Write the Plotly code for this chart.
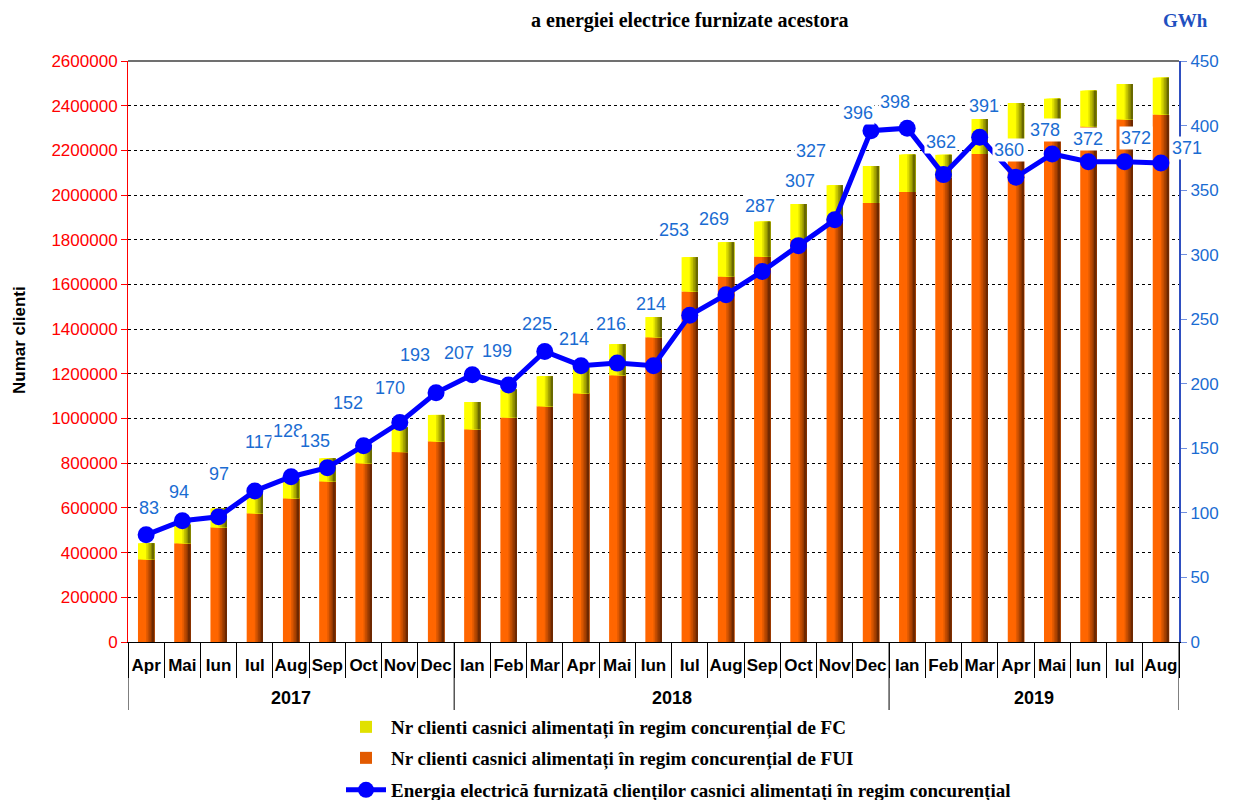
import plotly.graph_objects as go

months = ["Apr","Mai","Iun","Iul","Aug","Sep","Oct","Nov","Dec",
          "Ian","Feb","Mar","Apr","Mai","Iun","Iul","Aug","Sep","Oct","Nov","Dec",
          "Ian","Feb","Mar","Apr","Mai","Iun","Iul","Aug"]
years = ["2017", "2018", "2019"]
year_counts = [9, 12, 8]

fui = [370000, 442000, 513000, 576000, 643000, 719000, 800000, 850000, 898000,
       952000, 1005000, 1055000, 1113000, 1194000, 1364000, 1569000, 1636000, 1725000,
       1800000, 1880000, 1965000, 2014000, 2080000, 2184000, 2242000, 2266000, 2307000,
       2339000, 2361000]
fc = [72000, 83000, 85000, 89000, 87000, 103000, 80000, 110000, 118000,
      122000, 125000, 134000, 127000, 139000, 90000, 153000, 153000, 156000,
      160000, 164000, 165000, 167000, 100000, 156000, 170000, 165000, 160000,
      158000, 164000]
energy = [83, 94, 97, 117, 128, 135, 152, 170, 193, 207, 199, 225, 214, 216, 214,
          253, 269, 287, 307, 327, 396, 398, 362, 391, 360, 378, 372, 372, 371]

name_fc = "Nr clienti casnici alimentați în regim concurențial de FC"
name_fui = "Nr clienti casnici alimentați în regim concurențial de FUI"
name_en = "Energia electrică furnizată clienților casnici alimentați în regim concurențial"

# label placement (style): pixel offsets of each value label from its marker
label_dx = [3, -3, 0, 5, -3, -12, -16, -10, -21, -13, -12, -8, -7, -6, -3,
            -16, -12, -2, 2, -24, -13, -12, -2, 4, -7, -7, 0, 11, 26]
label_dy = [27, 29, 43, 49, 46, 27, 43, 35, 38, 22, 34, 28, 27, 39, 62,
            85, 76, 65, 65, 69, 18, 26, 33, 31, 27, 24, 23, 24, 15]

# page offset (browser body margin) and plot area in screen pixels
OFF = 8
L, R, T, B = 128 - OFF, 1179 - OFF, 61 - OFF, 642 - OFF
PW, PH = R - L, B - T
W, H = 1233, 800

def px_x(p):
    return (p - OFF - L) / PW

def px_y(p):
    return (B - (p - OFF)) / PH

def cont_y(p):
    return 1 - (p - OFF) / H

x = list(range(len(months)))

def grad(c1, c2, n, flat):
    cols = []
    for k in range(n):
        t = 0 if k < flat else (k - flat + 1) / (n - flat)
        c = tuple(int(round(a + (b - a) * t)) for a, b in zip(c1, c2))
        cols.append("rgb(%d,%d,%d)" % c)
    return cols

N = 10
BW = 0.45
orange_cols = grad((255, 102, 0), (110, 40, 0), N, 5)
yellow_cols = grad((255, 255, 0), (105, 105, 0), N, 5)

fig = go.Figure()
sw = BW / N
for k in range(N):
    fig.add_trace(go.Bar(
        x=x, y=fui, base=0, offset=-BW / 2 + k * sw, width=BW - k * sw,
        marker=dict(color=orange_cols[k], line=dict(width=0)),
        name=name_fui, legend="legend2", showlegend=(k == 5),
        hoverinfo="skip"))
for k in range(N):
    fig.add_trace(go.Bar(
        x=x, y=fc, base=fui, offset=-BW / 2 + k * sw, width=BW - k * sw,
        marker=dict(color=yellow_cols[k], line=dict(width=0)),
        name=name_fc, legend="legend", showlegend=(k == 5),
        hoverinfo="skip"))

fig.add_trace(go.Scatter(
    x=x, y=energy, yaxis="y2", mode="lines+markers",
    line=dict(color="#0000FF", width=5),
    marker=dict(color="#0000FF", size=17),
    name=name_en, legend="legend3"))

annotations = []
for i, v in enumerate(energy):
    annotations.append(dict(
        x=i, y=v, xref="x", yref="y2", text=str(v), showarrow=False,
        yshift=label_dy[i], xshift=label_dx[i], bgcolor="white", borderpad=1,
        font=dict(family="Arial", size=18, color="#1A6CD2")))

start = 0
for yr, cnt in zip(years, year_counts):
    annotations.append(dict(
        x=start + (cnt - 1) / 2, y=px_y(698), xref="x", yref="paper", text="<b>%s</b>" % yr,
        showarrow=False, font=dict(family="Arial", size=18, color="black"),
        yanchor="middle"))
    start += cnt

annotations.append(dict(text="<b>a energiei electrice furnizate acestora</b>",
                        x=px_x(690), y=px_y(21), xref="paper", yref="paper",
                        showarrow=False, yanchor="middle",
                        font=dict(family="Liberation Serif", size=20, color="black")))
annotations.append(dict(text="<b>GWh</b>", x=px_x(1210), y=px_y(21),
                        xref="paper", yref="paper", showarrow=False, yanchor="middle",
                        font=dict(family="Liberation Serif", size=19, color="#1F50C0")))
annotations.append(dict(text="<b>Numar clienti</b>", x=px_x(19), y=px_y(340),
                        xref="paper", yref="paper", showarrow=False, textangle=-90,
                        xanchor="center", yanchor="middle",
                        font=dict(family="Arial", size=17, color="black")))

shapes = []
acc = -0.5
bounds = [acc]
for cnt in year_counts:
    acc += cnt
    bounds.append(acc)
for b in bounds:
    shapes.append(dict(type="line", xref="x", yref="paper", x0=b, x1=b,
                       y0=0, y1=px_y(710), line=dict(color="black", width=1)))
shapes.append(dict(type="line", xref="paper", yref="paper", x0=0, x1=1, y0=1, y1=1,
                   line=dict(color="#707070", width=2)))

legend_font = dict(family="Liberation Serif", size=19, color="black", weight="bold")
def leg(yc):
    return dict(x=px_x(341), y=cont_y(yc), xref="paper", yref="container",
                xanchor="left", yanchor="middle",
                font=legend_font, itemwidth=40, bgcolor="rgba(0,0,0,0)")

fig.update_layout(
    width=W, height=H,
    margin=dict(l=L, r=W - R, t=T, b=H - B),
    paper_bgcolor="white", plot_bgcolor="white",
    barmode="overlay",
    showlegend=True,
    legend=leg(727), legend2=leg(758), legend3=leg(790),
    font=dict(family="Arial"),
    xaxis=dict(range=[-0.5, 28.5], tickmode="array", tickvals=x, ticktext=months,
               tickfont=dict(family="Arial", size=17, color="black", weight="bold"),
               ticks="", showgrid=False, zeroline=False, automargin=False,
               ticklabelstandoff=8,
               showline=True, linecolor="black", linewidth=1,
               minor=dict(tickmode="linear", tick0=0.5, dtick=1, ticks="outside",
                          ticklen=35, tickcolor="black", tickwidth=1, showgrid=False)),
    yaxis=dict(range=[0, 2600000], tickmode="linear", tick0=0, dtick=200000,
               tickformat="d", tickfont=dict(family="Arial", size=17, color="#FF0000"),
               showline=True, linecolor="#FF0000", linewidth=1, ticks="outside",
               tickcolor="#FF0000", ticklen=6, automargin=False,
               showgrid=True, gridcolor="black", griddash="dot", gridwidth=1,
               zeroline=False),
    yaxis2=dict(range=[0, 450], overlaying="y", side="right", tickmode="linear",
                tick0=0, dtick=50, showgrid=False, zeroline=False, automargin=False,
                tickfont=dict(family="Arial", size=17, color="#1A6CD2"),
                showline=True, linecolor="#2F4FC0", linewidth=2, ticks="outside",
                tickcolor="#6F8FE0", ticklen=6),
    annotations=annotations,
    shapes=shapes,
)

fig.write_html("out.html")
